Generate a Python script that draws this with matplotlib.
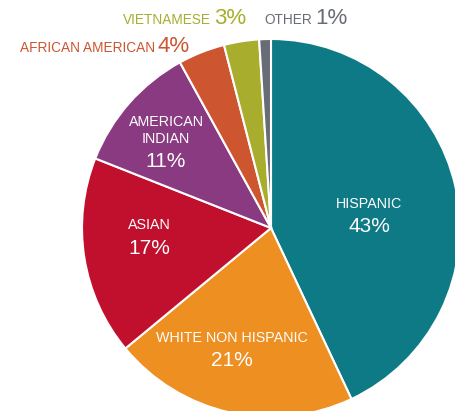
import matplotlib.pyplot as plt

plt.rcParams["font.family"] = ["Liberation Sans", "DejaVu Sans"]

categories = ["HISPANIC", "WHITE NON HISPANIC", "ASIAN", "AMERICAN INDIAN",
              "AFRICAN AMERICAN", "VIETNAMESE", "OTHER"]
shares = [43, 21, 17, 11, 4, 3, 1]
colors = ["#0E7A86", "#EE8F22", "#C0102E", "#8A3A80", "#CD5530", "#A8AD2E", "#686C76"]

fig = plt.figure(figsize=(4.55, 4.11), dpi=100)
ax = fig.add_axes([0, 0, 1, 1])

# pie centre / radius in pixel-ish coordinates (y measured upward)
cx, cy, r = 271, 411 - 228, 189
ax.pie(shares, colors=colors, startangle=90, counterclock=False,
       center=(cx, cy), radius=r, frame=True,
       wedgeprops=dict(edgecolor="white", linewidth=1.5))
ax.set_xlim(0, 455)
ax.set_ylim(0, 411)
ax.set_aspect("equal")
ax.axis("off")

# labels inside the big slices
inside = {
    "HISPANIC": (["HISPANIC"], 369, 411 - 204),
    "WHITE NON HISPANIC": (["WHITE NON HISPANIC"], 232, 411 - 338),
    "ASIAN": (["ASIAN"], 149, 411 - 225),
    "AMERICAN INDIAN": (["AMERICAN", "INDIAN"], 166, 411 - 122),
}
for name, val in zip(categories, shares):
    if name not in inside:
        continue
    lines, x, y = inside[name]
    for i, line in enumerate(lines):
        ax.text(x, y - 17 * i, line, color="white", fontsize=10.3,
                ha="center", va="center")
    ax.text(x, y - 17 * (len(lines) - 1) - 23, f"{val}%", color="white",
            fontsize=15, ha="center", va="center")

# small slices labelled above the pie
outside = {
    "AFRICAN AMERICAN": (155, 411 - 52),
    "VIETNAMESE": (211, 411 - 24),
    "OTHER": (312, 411 - 24),
}
for name, val, col in zip(categories, shares, colors):
    if name not in outside:
        continue
    x, y = outside[name]
    ax.text(x, y, name, color=col, fontsize=9.8, ha="right", va="baseline")
    ax.text(x + 3, y, f"{val}%", color=col, fontsize=16, ha="left", va="baseline")

fig.savefig("out.png", dpi=100)
